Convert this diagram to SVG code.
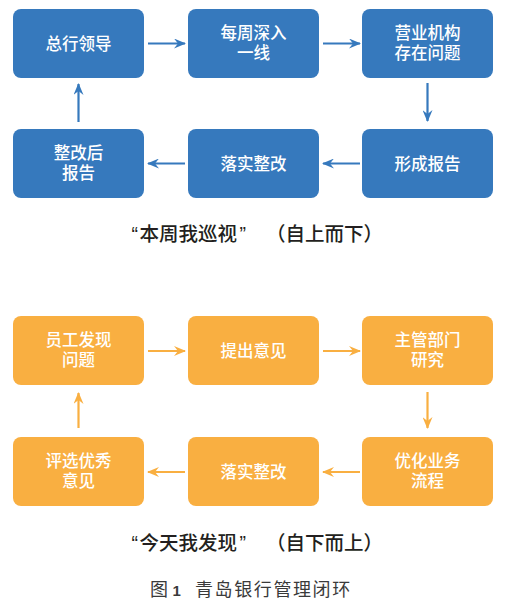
<svg xmlns="http://www.w3.org/2000/svg" width="514" height="607" viewBox="0 0 514 607">
<defs>
<style>
.blue{fill:#3679bd;}
.orange{fill:#f9af41;}
.nt{font-family:"Noto Sans CJK SC","Noto Sans",sans-serif;font-size:16.5px;font-weight:500;fill:#ffffff;text-anchor:middle;}
.cb{stroke:#3679bd;stroke-width:2.2;fill:none;}
.co{stroke:#f9af41;stroke-width:2.2;fill:none;}
.title{font-family:"Noto Sans CJK SC","Noto Sans",sans-serif;font-size:19.5px;font-weight:500;fill:#231f20;}
.q{font-family:"Liberation Sans",Arial,sans-serif;}
.cap{font-family:"Noto Sans CJK SC","Noto Sans",sans-serif;font-size:18px;fill:#3a3a3a;}
.num{font-family:"Liberation Sans",Arial,sans-serif;font-weight:bold;font-size:15px;}
</style>
<marker id="ab" viewBox="0 0 12 10" refX="11" refY="5" markerWidth="12" markerHeight="10" markerUnits="userSpaceOnUse" orient="auto">
<path d="M0,0 L12,5 L0,10 L4,5 Z" fill="#3679bd"/>
</marker>
<marker id="ao" viewBox="0 0 12 10" refX="11" refY="5" markerWidth="12" markerHeight="10" markerUnits="userSpaceOnUse" orient="auto">
<path d="M0,0 L12,5 L0,10 L4,5 Z" fill="#f9af41"/>
</marker>
</defs>
<rect width="514" height="607" fill="#ffffff"/>

<g id="b1"><rect class="blue" x="13" y="9" width="131" height="69" rx="8"/><text class="nt" x="78.5" y="49.5">总行领导</text></g>
<g id="b2"><rect class="blue" x="188" y="9" width="131" height="69" rx="8"/><text class="nt" x="253.5" y="39"><tspan x="253.5">每周深入</tspan><tspan x="253.5" dy="19.5">一线</tspan></text></g>
<g id="b3"><rect class="blue" x="362" y="9" width="131" height="69" rx="8"/><text class="nt" x="427.5" y="39"><tspan x="427.5">营业机构</tspan><tspan x="427.5" dy="19.5">存在问题</tspan></text></g>
<g id="b4"><rect class="blue" x="362" y="129" width="131" height="69" rx="8"/><text class="nt" x="427.5" y="169.5">形成报告</text></g>
<g id="b5"><rect class="blue" x="188" y="129" width="131" height="69" rx="8"/><text class="nt" x="253.5" y="169.5">落实整改</text></g>
<g id="b6"><rect class="blue" x="13" y="129" width="131" height="69" rx="8"/><text class="nt" x="78.5" y="159"><tspan x="78.5">整改后</tspan><tspan x="78.5" dy="19.5">报告</tspan></text></g>

<g id="o1"><rect class="orange" x="13" y="316" width="131" height="69" rx="8"/><text class="nt" x="78.5" y="346"><tspan x="78.5">员工发现</tspan><tspan x="78.5" dy="19.5">问题</tspan></text></g>
<g id="o2"><rect class="orange" x="188" y="316" width="131" height="69" rx="8"/><text class="nt" x="253.5" y="356.5">提出意见</text></g>
<g id="o3"><rect class="orange" x="362" y="316" width="131" height="69" rx="8"/><text class="nt" x="427.5" y="346"><tspan x="427.5">主管部门</tspan><tspan x="427.5" dy="19.5">研究</tspan></text></g>
<g id="o4"><rect class="orange" x="362" y="437" width="131" height="69" rx="8"/><text class="nt" x="427.5" y="467"><tspan x="427.5">优化业务</tspan><tspan x="427.5" dy="19.5">流程</tspan></text></g>
<g id="o5"><rect class="orange" x="188" y="437" width="131" height="69" rx="8"/><text class="nt" x="253.5" y="477.5">落实整改</text></g>
<g id="o6"><rect class="orange" x="13" y="437" width="131" height="69" rx="8"/><text class="nt" x="78.5" y="467"><tspan x="78.5">评选优秀</tspan><tspan x="78.5" dy="19.5">意见</tspan></text></g>

<g id="connectors">
<line class="cb" x1="148" y1="43.5" x2="185" y2="43.5" marker-end="url(#ab)"/>
<line class="cb" x1="323" y1="43.5" x2="360" y2="43.5" marker-end="url(#ab)"/>
<line class="cb" x1="427.5" y1="83" x2="427.5" y2="121" marker-end="url(#ab)"/>
<line class="cb" x1="360" y1="163.5" x2="323" y2="163.5" marker-end="url(#ab)"/>
<line class="cb" x1="185" y1="163.5" x2="148" y2="163.5" marker-end="url(#ab)"/>
<line class="cb" x1="78.5" y1="122" x2="78.5" y2="84" marker-end="url(#ab)"/>

<line class="co" x1="148" y1="351" x2="185" y2="351" marker-end="url(#ao)"/>
<line class="co" x1="323" y1="351" x2="360" y2="351" marker-end="url(#ao)"/>
<line class="co" x1="427.5" y1="392" x2="427.5" y2="428" marker-end="url(#ao)"/>
<line class="co" x1="360" y1="472" x2="323" y2="472" marker-end="url(#ao)"/>
<line class="co" x1="185" y1="472" x2="148" y2="472" marker-end="url(#ao)"/>
<line class="co" x1="78.5" y1="428" x2="78.5" y2="393" marker-end="url(#ao)"/>
</g>

<text class="title" y="240.5"><tspan class="q" x="131.5">“</tspan><tspan x="139.5">本周我巡视</tspan><tspan class="q" x="239.5">”</tspan><tspan x="266">（自上而下）</tspan></text>
<text class="title" y="549.5"><tspan class="q" x="131.5">“</tspan><tspan x="139.5">今天我发现</tspan><tspan class="q" x="239.5">”</tspan><tspan x="266">（自下而上）</tspan></text>
<text class="cap" y="596"><tspan x="150">图</tspan><tspan class="num" x="172.5">1</tspan><tspan x="195" letter-spacing="1.6">青岛银行管理闭环</tspan></text>
</svg>
